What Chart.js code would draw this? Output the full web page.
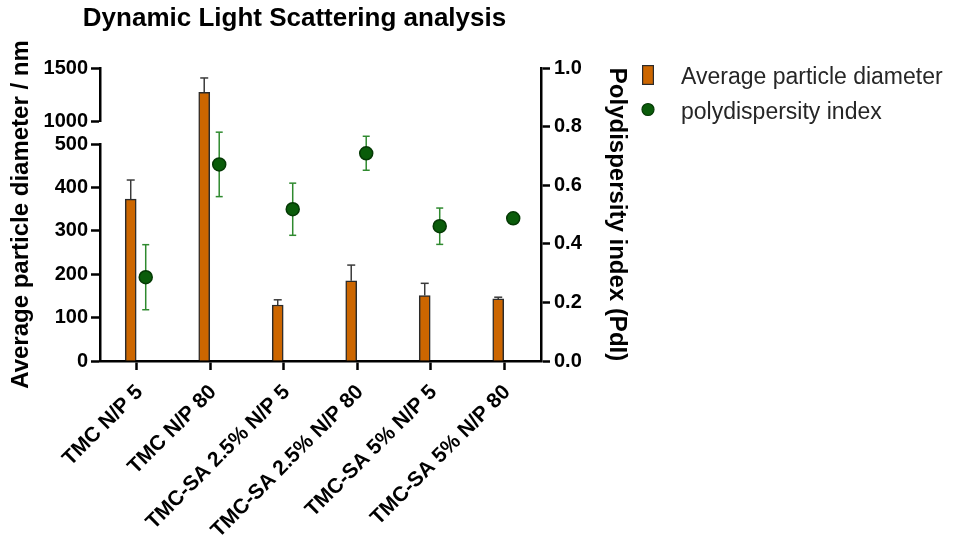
<!DOCTYPE html>
<html>
<head>
<meta charset="utf-8">
<script src="https://cdn.jsdelivr.net/npm/chart.js@4.4.0/dist/chart.umd.min.js"></script>
<style>
  html, body { margin: 0; padding: 0; background: #fff; overflow: hidden; }
  #wrap { width: 955px; height: 543px; position: relative; }
</style>
</head>
<body>
<div id="wrap"><canvas id="c"></canvas></div>
<script>
// ---------- data ----------
const categories = ["TMC N/P 5", "TMC N/P 80", "TMC-SA 2.5% N/P 5", "TMC-SA 2.5% N/P 80", "TMC-SA 5% N/P 5", "TMC-SA 5% N/P 80"];
const diameter = [373, 1270, 129, 185, 151, 143];
const diameterErr = [44, 136, 12, 36, 28, 4];
const pdi = [0.286, 0.671, 0.518, 0.709, 0.460, 0.487];
const pdiErr = [0.111, 0.110, 0.089, 0.058, 0.062, 0.010];
const lowerTicks = [0, 100, 200, 300, 400, 500];
const upperTicks = [1000, 1500];
const pdiTicks = [0, 0.2, 0.4, 0.6, 0.8, 1.0];

// ---------- styling ----------
const FONT = "'Liberation Sans', Arial, Helvetica, sans-serif";
const BAR_SHIFT = -0.082;
const POINT_SHIFT = 0.122;
const LOW_MIN = lowerTicks[0], LOW_MAX = lowerTicks[lowerTicks.length - 1];
const HIGH_MIN = upperTicks[0], HIGH_MAX = upperTicks[upperTicks.length - 1];

const BAR_FILL = '#CC6600', BAR_EDGE = '#2b2b2b', BAR_ERR = '#3a3a3a';
const PT_FILL = '#0a5c0a', PT_EDGE = '#053a05', PT_ERR = '#2f8a2f';

const fixTicks = values => scale => { scale.ticks = values.map(v => ({ value: v })); };
const fixWidth = w => scale => { scale.width = w; };
const axisLine = { display: true, color: '#000', width: 2.5 };
const tickGrid = { display: true, offset: false, drawOnChartArea: false, drawTicks: true, tickLength: 9, tickWidth: 2.5, tickColor: '#000' };
const tickFont = { family: FONT, size: 20, weight: 'bold' };
const titleFont = { family: FONT, size: 24, weight: 'bold' };

function segment(lo, hi) {
  return diameter.map((v, i) => ({ x: i + BAR_SHIFT, y: v > lo ? [lo, Math.min(v, hi)] : null }));
}
function segBorder(lo, hi) {
  return ctx => ({
    left: 1.5, right: 1.5,
    bottom: 0,
    top: diameter[ctx.dataIndex] > hi ? 0 : 1.5
  });
}
const barStyle = {
  type: 'bar', backgroundColor: BAR_FILL, borderColor: BAR_EDGE,
  borderSkipped: false, barThickness: 11, grouped: false, xAxisID: 'x'
};

// ---------- plugins ----------
const errorBars = {
  id: 'errorBars',
  beforeDatasetsDraw(chart) {
    const { ctx, scales } = chart;
    const yOf = v => v >= HIGH_MIN ? scales.yHigh.getPixelForValue(v)
                  : v > LOW_MAX ? scales.yGap.getPixelForValue(v)
                  : scales.yLow.getPixelForValue(v);
    const seg = (x1, y1, x2, y2) => { ctx.beginPath(); ctx.moveTo(x1, y1); ctx.lineTo(x2, y2); ctx.stroke(); };
    ctx.save();
    ctx.lineWidth = 1.5;
    ctx.strokeStyle = BAR_ERR;
    diameter.forEach((v, i) => {
      const x = scales.x.getPixelForValue(i + BAR_SHIFT);
      const y0 = yOf(v), y1 = yOf(v + diameterErr[i]);
      seg(x, y0, x, y1);
      seg(x - 4, y1, x + 4, y1);
    });
    ctx.strokeStyle = PT_ERR;
    pdi.forEach((v, i) => {
      const x = scales.x.getPixelForValue(i + POINT_SHIFT);
      const yt = scales.y2.getPixelForValue(v + pdiErr[i]);
      const yb = scales.y2.getPixelForValue(v - pdiErr[i]);
      seg(x, yt, x, yb);
      seg(x - 3.5, yt, x + 3.5, yt);
      seg(x - 3.5, yb, x + 3.5, yb);
    });
    ctx.restore();
  }
};

const sideLegend = {
  id: 'sideLegend',
  afterDraw(chart) {
    const ctx = chart.ctx;
    const bar = chart.data.datasets[0];
    const pts = chart.data.datasets[3];
    ctx.save();
    ctx.fillStyle = bar.backgroundColor;
    ctx.fillRect(642, 65, 12, 20);
    ctx.strokeStyle = bar.borderColor;
    ctx.lineWidth = 1.2;
    ctx.strokeRect(642.6, 65.6, 10.8, 18.8);
    ctx.beginPath();
    ctx.arc(648, 109.5, 6, 0, Math.PI * 2);
    ctx.fillStyle = pts.pointBackgroundColor;
    ctx.fill();
    ctx.strokeStyle = pts.pointBorderColor;
    ctx.lineWidth = 1.2;
    ctx.stroke();
    ctx.font = '23px ' + FONT;
    ctx.fillStyle = '#262626';
    ctx.textBaseline = 'alphabetic';
    ctx.textAlign = 'left';
    ctx.fillText(bar.label, 681, 83.5);
    ctx.fillText(pts.label, 681, 118.5);
    ctx.restore();
  }
};

// ---------- chart ----------
new Chart(document.getElementById('c'), {
  type: 'bar',
  data: {
    datasets: [
      { ...barStyle, label: 'Average particle diameter', data: segment(LOW_MIN, LOW_MAX), yAxisID: 'yLow', borderWidth: segBorder(LOW_MIN, LOW_MAX) },
      { ...barStyle, label: 'gap', data: segment(LOW_MAX, HIGH_MIN), yAxisID: 'yGap', borderWidth: segBorder(LOW_MAX, HIGH_MIN) },
      { ...barStyle, label: 'high', data: segment(HIGH_MIN, HIGH_MAX), yAxisID: 'yHigh', borderWidth: segBorder(HIGH_MIN, HIGH_MAX) },
      {
        type: 'scatter', label: 'polydispersity index',
        data: pdi.map((v, i) => ({ x: i + POINT_SHIFT, y: v })),
        xAxisID: 'x', yAxisID: 'y2',
        pointRadius: 6.5, pointBackgroundColor: PT_FILL, pointBorderColor: PT_EDGE, pointBorderWidth: 1.5,
        backgroundColor: PT_FILL, borderColor: PT_EDGE
      }
    ]
  },
  options: {
    responsive: true,
    maintainAspectRatio: false,
    animation: false,
    events: [],
    layout: { padding: { left: 0, right: 366, top: 0, bottom: 0 }, autoPadding: false },
    plugins: {
      legend: { display: false },
      tooltip: { enabled: false },
      title: {
        display: true, text: 'Dynamic Light Scattering analysis',
        font: { family: FONT, size: 26, weight: 'bold' }, color: '#000', padding: { top: 3, bottom: 33.8 }
      }
    },
    scales: {
      x: {
        type: 'linear', position: 'bottom', offset: false,
        min: -0.5, max: categories.length - 0.5,
        afterBuildTicks: s => { s.ticks = categories.map((c, i) => ({ value: i })); },
        afterFit: s => { s.height = 182; },
        border: axisLine, grid: tickGrid,
        ticks: {
          font: { family: FONT, size: 21, weight: 'bold' }, color: '#000',
          minRotation: 45, maxRotation: 45, autoSkip: false, padding: 10, labelOffset: 3,
          callback: v => categories[v]
        }
      },
      yTitle: {
        type: 'linear', position: 'left', weight: 10, min: 0, max: 1,
        afterFit: fixWidth(40),
        border: { display: false }, grid: { display: false }, ticks: { display: false },
        title: { display: true, text: 'Average particle diameter / nm', font: titleFont, color: '#000', padding: { top: 7, bottom: 0 } }
      },
      yHigh: {
        type: 'linear', position: 'left', stack: 'left', stackWeight: 53, weight: 3,
        min: HIGH_MIN, max: HIGH_MAX,
        afterBuildTicks: fixTicks(upperTicks), afterFit: fixWidth(60),
        border: axisLine, grid: tickGrid,
        ticks: { font: tickFont, color: '#000', padding: 3, callback: v => String(v) }
      },
      yGap: {
        type: 'linear', position: 'left', stack: 'left', stackWeight: 23, weight: 2,
        min: LOW_MAX, max: HIGH_MIN,
        afterFit: fixWidth(60),
        border: { display: false }, grid: { display: false }, ticks: { display: false }
      },
      yLow: {
        type: 'linear', position: 'left', stack: 'left', stackWeight: 217, weight: 1,
        min: LOW_MIN, max: LOW_MAX,
        afterBuildTicks: fixTicks(lowerTicks), afterFit: fixWidth(60),
        border: axisLine, grid: tickGrid,
        ticks: { font: tickFont, color: '#000', padding: 3, callback: v => String(v) }
      },
      y2: {
        type: 'linear', position: 'right', min: 0, max: 1,
        afterBuildTicks: fixTicks(pdiTicks), afterFit: fixWidth(48),
        border: axisLine, grid: tickGrid,
        ticks: { font: tickFont, color: '#000', padding: 4, callback: v => Number(v).toFixed(1) },
        title: { display: true, text: 'Polydispersity index (PdI)', font: titleFont, color: '#000', padding: { top: -42.4, bottom: 0 } }
      }
    }
  },
  plugins: [errorBars, sideLegend]
});
</script>
</body>
</html>
